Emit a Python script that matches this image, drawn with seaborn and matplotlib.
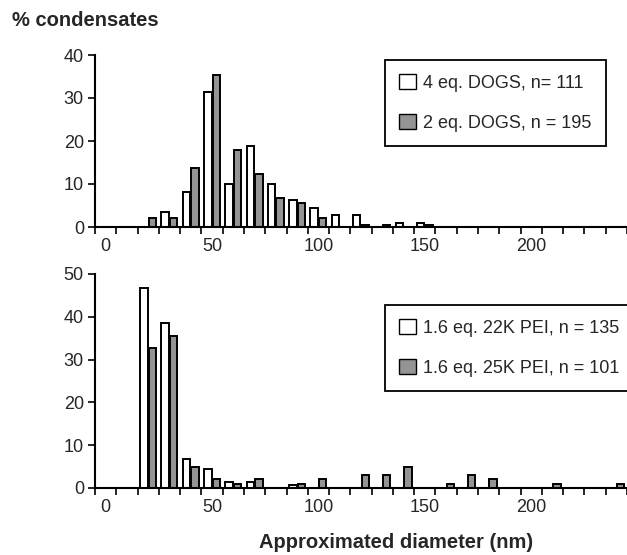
import numpy as np
import pandas as pd
import seaborn as sns
import matplotlib
matplotlib.use('Agg')
import matplotlib.pyplot as plt

# bins of 10 nm, 0 .. 240
diameters = list(range(0, 250, 10))

# % condensates per bin
dogs4 = [0, 0, 0, 3.6, 8.1, 31.5, 9.9, 18.9, 9.9, 6.3, 4.5, 2.7, 2.7,
         0, 0.9, 0.9, 0, 0, 0, 0, 0, 0, 0, 0, 0]
dogs2 = [0, 0, 2.1, 2.1, 13.8, 35.4, 17.9, 12.3, 6.7, 5.6, 2.1, 0, 0.5,
         0.5, 0, 0.5, 0, 0, 0, 0, 0, 0, 0, 0, 0]
pei22 = [0, 0, 46.7, 38.5, 6.7, 4.4, 1.5, 1.5, 0, 0.7, 0, 0, 0,
         0, 0, 0, 0, 0, 0, 0, 0, 0, 0, 0, 0]
pei25 = [0, 0, 32.7, 35.6, 5.0, 2.0, 1.0, 2.0, 0, 1.0, 2.0, 0, 3.0,
         3.0, 5.0, 0, 1.0, 3.0, 2.0, 0, 0, 1.0, 0, 0, 1.0]

top_labels = ['4 eq. DOGS, n= 111', '2 eq. DOGS, n = 195']
bot_labels = ['1.6 eq. 22K PEI, n = 135', '1.6 eq. 25K PEI, n = 101']
xtick_labels = ['0', '50', '100', '150', '200']

W, H = 627, 555
GREY = '#949494'

sns.set_style('ticks')
plt.rcParams['font.family'] = ['Liberation Sans', 'DejaVu Sans']


def long_df(a, b, labels):
    return pd.DataFrame({
        'diameter': diameters * 2,
        'pct': a + b,
        'series': [labels[0]] * len(a) + [labels[1]] * len(b),
    })


def draw(ax, df, labels, ymax, legend_y):
    sns.barplot(data=df, x='diameter', y='pct', hue='series',
                order=diameters, hue_order=labels,
                palette=['white', GREY], edgecolor='black',
                linewidth=1.4, width=0.8, gap=0.12, errorbar=None, ax=ax)
    sns.despine(ax=ax)
    for s in ['left', 'bottom']:
        ax.spines[s].set_linewidth(1.5)
        ax.spines[s].set_color('black')
    ax.set_xlim(-0.5, 24.36)
    ax.set_ylim(0, ymax)
    ax.set_yticks(np.arange(0, ymax + 1, 10))
    bounds = np.arange(-0.5, 25, 1)
    ax.set_xticks(bounds, labels=[''] * len(bounds))
    ax.set_xticks([0, 5, 10, 15, 20], labels=xtick_labels, minor=True)
    ax.tick_params(axis='x', which='major', length=5, width=1.2, color='black')
    ax.tick_params(axis='x', which='minor', length=0, pad=8, labelsize=13)
    ax.tick_params(axis='y', length=5, width=1.2, color='black', pad=3, labelsize=13)
    ax.set_xlabel('')
    ax.set_ylabel('')
    if ax.legend_ is not None:
        ax.legend_.remove()
    handles = [plt.Rectangle((0, 0), 1, 1, facecolor='white', edgecolor='black', linewidth=1),
               plt.Rectangle((0, 0), 1, 1, facecolor=GREY, edgecolor='black', linewidth=1)]
    lg = ax.legend(handles=handles, labels=labels, loc='upper left',
                   bbox_to_anchor=(385 / W, 1 - legend_y / H),
                   bbox_transform=ax.figure.transFigure,
                   fontsize=13, frameon=True, fancybox=False, framealpha=1,
                   edgecolor='black', handlelength=0.9, handleheight=0.9,
                   handletextpad=0.4, labelspacing=1.2, borderpad=0.8,
                   borderaxespad=0)
    lg.get_frame().set_linewidth(1.3)


fig = plt.figure(figsize=(W / 100, H / 100), dpi=100)
ax1 = fig.add_axes([95 / W, 1 - 227 / H, 1 - 95 / W, (227 - 55) / H])
ax2 = fig.add_axes([95 / W, 1 - 488 / H, 1 - 95 / W, (488 - 274) / H])

draw(ax1, long_df(dogs4, dogs2, top_labels), top_labels, 40, 60)
draw(ax2, long_df(pei22, pei25, bot_labels), bot_labels, 50, 305)

fig.text(12 / W, 1 - 21 / H, '% condensates', fontsize=14.5, fontweight='bold',
         va='center', ha='left')
fig.text(396 / W, 1 - 542 / H, 'Approximated diameter (nm)', fontsize=14.5,
         fontweight='bold', va='center', ha='center')

fig.savefig('out.png', dpi=100)
